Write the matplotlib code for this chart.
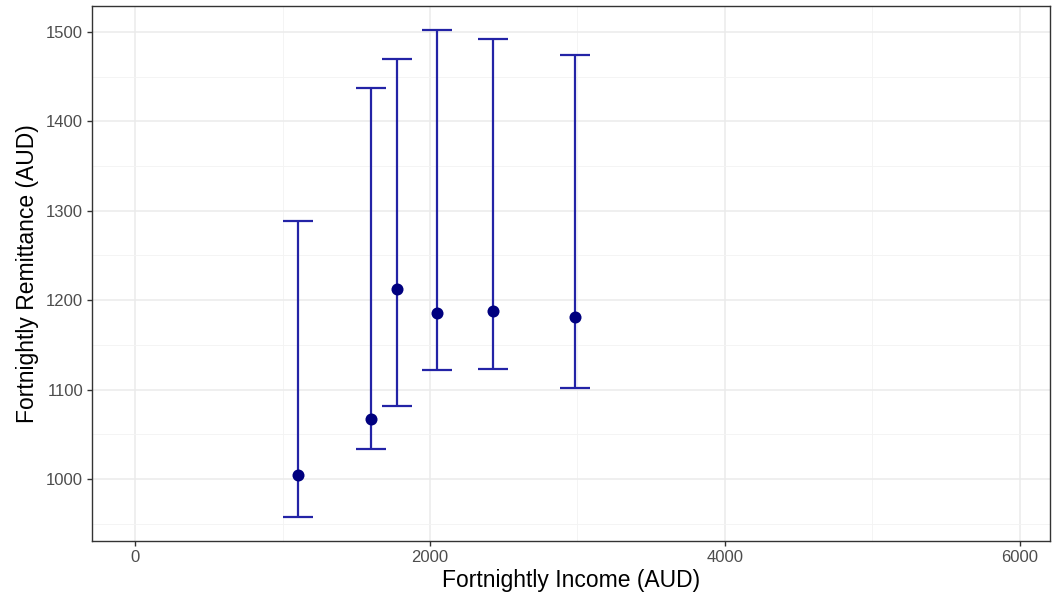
import matplotlib
matplotlib.use("Agg")
import matplotlib.pyplot as plt
import numpy as np

income = [1107, 1600, 1776, 2047, 2427, 2983]
remit_mean = [1004.8, 1067, 1212.5, 1185.7, 1188, 1180.8]
remit_low = [957, 1033.6, 1081.7, 1122, 1123, 1102]
remit_high = [1289, 1437, 1470, 1502.6, 1492.5, 1474]

x_ticks = [0, 2000, 4000, 6000]
y_ticks = [1000, 1100, 1200, 1300, 1400, 1500]

plt.rcParams['font.family'] = ['Liberation Sans', 'DejaVu Sans']

fig = plt.figure(figsize=(10.52, 6.02), dpi=100)
ax = fig.add_axes([0.0877, 0.1018, 0.998 - 0.0877, 0.990 - 0.1018])

x = np.array(income)
m = np.array(remit_mean)
lo = np.array(remit_low)
hi = np.array(remit_high)

ax.errorbar(x, m, yerr=[m - lo, hi - m], fmt='none', ecolor='#2323a6',
            elinewidth=1.6, capsize=11, capthick=1.6, zorder=3)
ax.scatter(x, m, s=75, color='#00007f', zorder=4, linewidths=0)

ax.set_xlim(-290, 6203)
ax.set_ylim(931, 1529)
ax.set_xticks(x_ticks)
ax.set_yticks(y_ticks)
ax.set_xticks([1000, 3000, 5000], minor=True)
ax.set_yticks([950, 1050, 1150, 1250, 1350, 1450], minor=True)

ax.grid(True, which='major', color='#ebebeb', linewidth=1.1, zorder=0)
ax.grid(True, which='minor', color='#f3f3f3', linewidth=0.6, zorder=0)
ax.set_axisbelow(True)

for s in ax.spines.values():
    s.set_color('#333333')
    s.set_linewidth(1.0)

ax.tick_params(axis='both', which='major', length=3.5, width=1.0, color='#333333',
               labelcolor='#4d4d4d', labelsize=12, pad=3)
ax.tick_params(axis='both', which='minor', length=0)

ax.set_xlabel('Fortnightly Income (AUD)', fontsize=16.5, color='black', labelpad=3)
ax.set_ylabel('Fortnightly Remittance (AUD)', fontsize=16.5, color='black', labelpad=5)

fig.savefig('out.png', dpi=100, facecolor='white')
